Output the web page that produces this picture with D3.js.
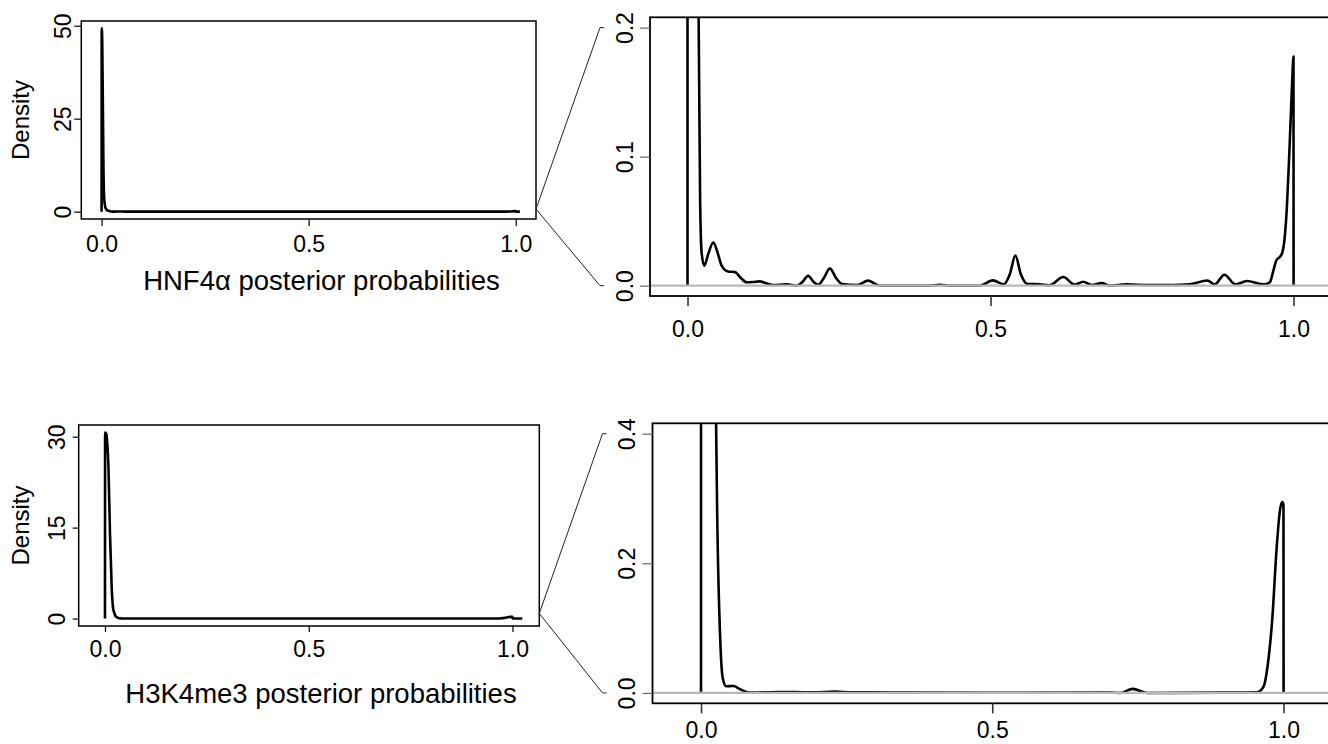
<!DOCTYPE html>
<html>
<head>
<meta charset="utf-8">
<script src="https://cdnjs.cloudflare.com/ajax/libs/d3/7.8.5/d3.min.js"></script>
<style>
	body { margin: 0; background: #fff; }
	svg { display: block; font-family: "Liberation Sans", Arial, Helvetica, sans-serif; }
</style>
</head>
<body>
<svg id="chart" width="1328" height="744"></svg>
<script>
/* ------------------------------ Part 1: Data [Start] ------------------------------ */

// HNF4a density estimate (x = posterior probability, y = density)
var hnf4aX = [0, 0.0003, 0.0015, 0.003, 0.0045, 0.006, 0.009, 0.012, 0.015, 0.0185,
	0.0208, 0.0233, 0.0277, 0.0345, 0.0425, 0.050, 0.0563, 0.067, 0.078, 0.088,
	0.0975, 0.108, 0.119, 0.130, 0.141, 0.1635, 0.18, 0.19, 0.199, 0.208,
	0.216, 0.225, 0.235, 0.245, 0.255, 0.28, 0.298, 0.317, 0.40, 0.416,
	0.43, 0.482, 0.504, 0.522, 0.532, 0.541, 0.550, 0.560, 0.581, 0.597,
	0.620, 0.639, 0.653, 0.667, 0.684, 0.696, 0.725, 0.76, 0.80, 0.828,
	0.858, 0.870, 0.886, 0.904, 0.923, 0.946, 0.953, 0.961, 0.967, 0.972,
	0.978, 0.982, 0.986, 0.989, 0.992, 0.995, 0.998, 1.0, 1.0002, 1.01];
var hnf4aY = [0, 49.3, 46, 30, 12, 4, 1.2, 0.55, 0.3, 0.2,
	0.0665, 0.0255, 0.0155, 0.025, 0.0335, 0.025, 0.0155, 0.011, 0.0106, 0.006,
	0.0026, 0.0028, 0.0033, 0.0018, 0.0005, 0.001, 0, 0.003, 0.0077, 0.003,
	0.0008, 0.006, 0.0134, 0.006, 0.0013, 0.0005, 0.0039, 0, 0, 0.0006,
	0, 0, 0.0041, 0.001, 0.009, 0.0234, 0.009, 0.0015, 0.001, 0.0003,
	0.0067, 0.0008, 0.003, 0.0005, 0.002, 0, 0.001, 0.0005, 0.0005, 0.001,
	0.004, 0.001, 0.0085, 0.001, 0.0036, 0.0013, 0.001, 0.0026, 0.012, 0.0199,
	0.0225, 0.0264, 0.040, 0.060, 0.090, 0.125, 0.160, 0.1775, 0, 0];

// H3K4me3 density estimate
var h3k4me3X = [0, 0.0003, 0.003, 0.006, 0.0085, 0.0123, 0.0164, 0.020, 0.0235, 0.0258,
	0.0283, 0.0326, 0.037, 0.043, 0.050, 0.0567, 0.064, 0.071, 0.0845, 0.12,
	0.161, 0.195, 0.23, 0.26, 0.29, 0.35, 0.50, 0.70, 0.72, 0.741,
	0.767, 0.90, 0.955, 0.966, 0.9725, 0.981, 0.988, 0.994, 0.998, 1.0,
	1.0002, 1.024];
var h3k4me3Y = [0, 30.7, 30.5, 28.5, 25, 14, 5.2, 1.65, 0.8, 0.42,
	0.246, 0.0916, 0.0247, 0.0103, 0.0105, 0.0108, 0.007, 0.004, 0.0005, 0.001,
	0.0015, 0.0008, 0.002, 0.0008, 0.001, 0.0005, 0.0003, 0.0005, 0, 0.0062,
	0, 0.0005, 0.001, 0.01, 0.04, 0.117, 0.22, 0.282, 0.2946, 0.29,
	0, 0];

// Tick values and labels
var xTicks = [0, 0.5, 1];
var xTickLabels = ["0.0", "0.5", "1.0"];
var hnf4aFullTicks = [0, 25, 50];
var h3k4me3FullTicks = [0, 15, 30];
var hnf4aZoomTicks = [0, 0.1, 0.2];
var hnf4aZoomLabels = ["0.0", "0.1", "0.2"];
var h3k4me3ZoomTicks = [0, 0.2, 0.4];
var h3k4me3ZoomLabels = ["0.0", "0.2", "0.4"];
var axisTitles = ["HNF4\u03b1 posterior probabilities", "H3K4me3 posterior probabilities"];

/* ------------------------------- Part 1: Data [End] ------------------------------- */


/* ------------------------------ Part 2: Layout [Start] ------------------------------ */

var panels = {
	hnfFull:  { left: 81.3, right: 536,  top: 21,    bottom: 219,   xlim: [-0.049, 1.049],   tick: 7,  yLab: 10.5, xLab: 32.7, titleY: 290,   titleX: 321.5 },
	h3Full:   { left: 78.7, right: 539.3, top: 425,  bottom: 626,   xlim: [-0.0645, 1.0658], tick: 6,  yLab: 14,   xLab: 30.7, titleY: 703.3, titleX: 321 },
	hnfZoom:  { left: 650,  right: 1331, top: 17.3,  bottom: 296,   xlim: [-0.0619, 1.0619], tick: 10, yLab: 16.7, xLab: 40.7 },
	h3Zoom:   { left: 652.5, right: 1332, top: 423.3, bottom: 703.3, xlim: [-0.0833, 1.0833], tick: 10, yLab: 17.5, xLab: 35.2 }
};

var svg = d3.select("#chart");

/* ------------------------------- Part 2: Layout [End] ------------------------------- */


/* ------------------------------ Part 3: Draw panels [Start] ------------------------------ */

// R-style 4% expansion of a [lo, hi] range
function expandRange(lo, hi) {
	var pad = (hi - lo) * 0.04;
	return [lo - pad, hi + pad];
}

function drawPanel(p, xs, ys, yTop, yTicks, yLabels, zoomed, id) {
	var x = d3.scaleLinear().domain(p.xlim).range([p.left, p.right]);
	var y = d3.scaleLinear().domain(expandRange(0, yTop)).range([p.bottom, p.top]);
	var pts = xs.map(function(v, i) { return [v, ys[i]]; });

	// the zoomed panels stop the curve where it drops at 1.0
	if (zoomed) pts = pts.filter(function(d) { return d[0] <= 1.0002; });

	var g = svg.append("g");

	if (zoomed) {
		svg.append("clipPath").attr("id", id)
			.append("rect")
			.attr("x", p.left).attr("y", p.top)
			.attr("width", p.right - p.left).attr("height", p.bottom - p.top);
	}

	var line = d3.line()
		.x(function(d) { return x(d[0]); })
		.y(function(d) { return y(d[1]); })
		.curve(d3.curveMonotoneX);

	var path = g.append("path")
		.datum(pts)
		.attr("d", line)
		.attr("fill", "none")
		.attr("stroke", "#000")
		.attr("stroke-width", 2.6)
		.attr("stroke-linejoin", "round");

	if (zoomed) {
		path.attr("clip-path", "url(#" + id + ")");
		// horizontal reference line at zero, drawn over the curve
		g.append("line")
			.attr("x1", p.left).attr("x2", p.right)
			.attr("y1", y(0)).attr("y2", y(0))
			.attr("stroke", "#b8b8b8")
			.attr("stroke-width", 2.2);
	}

	// box
	g.append("rect")
		.attr("x", p.left).attr("y", p.top)
		.attr("width", p.right - p.left).attr("height", p.bottom - p.top)
		.attr("fill", "none")
		.attr("stroke", "#000")
		.attr("stroke-width", zoomed ? 1.8 : 1.5);

	// x axis
	var xAxis = g.append("g")
		.attr("transform", "translate(0," + p.bottom + ")")
		.call(d3.axisBottom(x).tickValues(xTicks).tickSize(p.tick)
			.tickFormat(function(d, i) { return xTickLabels[i]; }));
	xAxis.select(".domain").remove();
	xAxis.selectAll("line").attr("stroke", zoomed ? "#333" : "#000").attr("stroke-width", zoomed ? 1.6 : 1.2);
	xAxis.selectAll("text")
		.attr("y", p.xLab).attr("dy", 0)
		.attr("fill", "#000")
		.style("font-size", "23px");

	// y axis, labels rotated as in R (las = 0)
	var yAxis = g.append("g")
		.attr("transform", "translate(" + p.left + ",0)")
		.call(d3.axisLeft(y).tickValues(yTicks).tickSize(p.tick)
			.tickFormat(function(d, i) { return yLabels[i]; }));
	yAxis.select(".domain").remove();
	yAxis.selectAll("line").attr("stroke", zoomed ? "#666" : "#000").attr("stroke-width", 1.2);
	yAxis.selectAll("text")
		.attr("transform", "rotate(-90)")
		.attr("x", 0).attr("y", -p.yLab).attr("dy", 0)
		.attr("text-anchor", "middle")
		.attr("fill", "#000")
		.style("font-size", "23px");

	return { x: x, y: y };
}

var hnfFull = drawPanel(panels.hnfFull, hnf4aX, hnf4aY, d3.max(hnf4aY), hnf4aFullTicks, hnf4aFullTicks.map(String), false, "c1");
var h3Full = drawPanel(panels.h3Full, h3k4me3X, h3k4me3Y, d3.max(h3k4me3Y), h3k4me3FullTicks, h3k4me3FullTicks.map(String), false, "c2");
var hnfZoom = drawPanel(panels.hnfZoom, hnf4aX, hnf4aY, 0.2, hnf4aZoomTicks, hnf4aZoomLabels, true, "c3");
var h3Zoom = drawPanel(panels.h3Zoom, h3k4me3X, h3k4me3Y, 0.4, h3k4me3ZoomTicks, h3k4me3ZoomLabels, true, "c4");

// Axis titles for the full panels
[panels.hnfFull, panels.h3Full].forEach(function(p, i) {
	svg.append("text")
		.attr("x", p.titleX).attr("y", p.titleY)
		.attr("text-anchor", "middle")
		.style("font-size", "27.5px")
		.text(axisTitles[i]);

	svg.append("text")
		.attr("transform", "translate(28.5," + ((p.top + p.bottom) / 2) + ") rotate(-90)")
		.attr("text-anchor", "middle")
		.style("font-size", "24px")
		.text("Density");
});

/* ------------------------------- Part 3: Draw panels [End] ------------------------------- */


/* ------------------------------ Part 4: Zoom connectors [Start] ------------------------------ */

// bracket lines from the full panel's right edge to the zoomed y range
function drawConnector(full, fullScales, zoom, zoomScales, yTop, apexValue) {
	var ax = full.right, ay = fullScales.y(apexValue);
	var ex = zoom.left - 50;
	[0, yTop].forEach(function(v) {
		var ey = zoomScales.y(v);
		svg.append("polyline")
			.attr("points", [[ax, ay], [ex, ey], [ex + 4, ey]].map(function(d) { return d.join(","); }).join(" "))
			.attr("fill", "none")
			.attr("stroke", "#222")
			.attr("stroke-width", 1);
	});
}

drawConnector(panels.hnfFull, hnfFull, panels.hnfZoom, hnfZoom, 0.2, 0.7);
drawConnector(panels.h3Full, h3Full, panels.h3Zoom, h3Zoom, 0.4, 0.85);

/* ------------------------------- Part 4: Zoom connectors [End] ------------------------------- */
</script>
</body>
</html>
